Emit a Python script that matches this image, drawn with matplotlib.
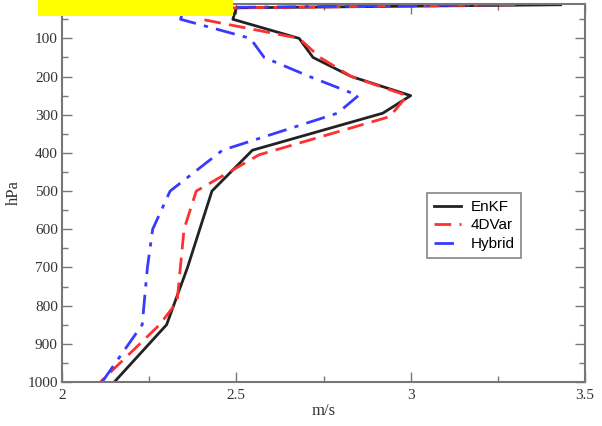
import matplotlib
matplotlib.use("Agg")
import matplotlib.pyplot as plt
from matplotlib.ticker import MultipleLocator
from matplotlib.patches import Rectangle

# Data (pressure levels in hPa, values in m/s)
enkf_p = [12, 20, 50, 100, 150, 200, 250, 296, 393, 500, 700, 850, 1000]
enkf_v = [3.43, 2.50, 2.49, 2.68, 2.72, 2.83, 3.00, 2.92, 2.546, 2.43, 2.36, 2.30, 2.15]

var4d_p = [12, 21, 50, 100, 150, 200, 250, 305, 405, 500, 600, 790, 850, 1000]
var4d_v = [3.30, 2.41, 2.40, 2.68, 2.74, 2.83, 2.99, 2.94, 2.565, 2.385, 2.35, 2.33, 2.28, 2.11]

hybrid_p = [12, 20, 50, 100, 150, 200, 250, 296, 393, 500, 600, 700, 800, 850, 1000]
hybrid_v = [3.25, 2.35, 2.34, 2.54, 2.58, 2.71, 2.85, 2.79, 2.46, 2.31, 2.26, 2.245, 2.235, 2.23, 2.115]

series_names = ["EnKF", "4DVar", "Hybrid"]
x_ticks = [2, 2.5, 3, 3.5]
x_tick_labels = ["2", "2.5", "3", "3.5"]
y_ticks = [100, 200, 300, 400, 500, 600, 700, 800, 900, 1000]

fig = plt.figure(figsize=(6.02, 4.26), dpi=100)
ax = fig.add_axes([62/602, 1 - 382/426, (585 - 62)/602, (382 - 4)/426])

ax.plot(enkf_v, enkf_p, color="#222222", lw=2.0, ls="-", label=series_names[0])
ax.plot(var4d_v, var4d_p, color="#ff3030", lw=2.0, ls=(0, (6, 3)), label=series_names[1])
ax.plot(hybrid_v, hybrid_p, color="#3a3aff", lw=2.0, ls=(0, (7, 3, 1.5, 3)), label=series_names[2])

ax.set_xlim(2, 3.5)
ax.set_ylim(1000, 10)
ax.set_xticks(x_ticks)
ax.set_xticklabels(x_tick_labels)
ax.set_yticks(y_ticks)
ax.xaxis.set_minor_locator(MultipleLocator(0.25))
ax.yaxis.set_minor_locator(MultipleLocator(50))

serif = "Liberation Serif"
for lab in ax.get_xticklabels() + ax.get_yticklabels():
    lab.set_fontfamily(serif)
    lab.set_fontsize(11)
    lab.set_color("#333333")

ax.tick_params(which="both", direction="in", top=True, right=True, color="#777777")
ax.tick_params(which="major", length=7, width=1)
ax.tick_params(which="minor", length=4, width=1)
ax.tick_params(axis="x", pad=5)
ax.tick_params(axis="y", pad=3)
for s in ax.spines.values():
    s.set_color("#777777")
    s.set_linewidth(1.5)

ax.set_xlabel("m/s", fontfamily=serif, fontsize=12, color="#333333", labelpad=1)
ax.set_ylabel("hPa", fontfamily=serif, fontsize=12, color="#333333", labelpad=4)

leg = ax.legend(loc="upper left", bbox_to_anchor=((427 - 62)/523, 1 - (193 - 4)/378),
                prop={"family": "Liberation Sans", "size": 11}, frameon=True,
                fancybox=False, edgecolor="#666666", handlelength=1.8,
                borderpad=0.45, labelspacing=0.3, handletextpad=0.6, borderaxespad=0)
leg.get_frame().set_linewidth(1.2)

fig.patches.append(Rectangle((38/602, 1 - 16/426), (233 - 38)/602, 16/426,
                             transform=fig.transFigure, facecolor="#ffff00",
                             edgecolor="none", zorder=10))

fig.savefig("out.png", dpi=100)
